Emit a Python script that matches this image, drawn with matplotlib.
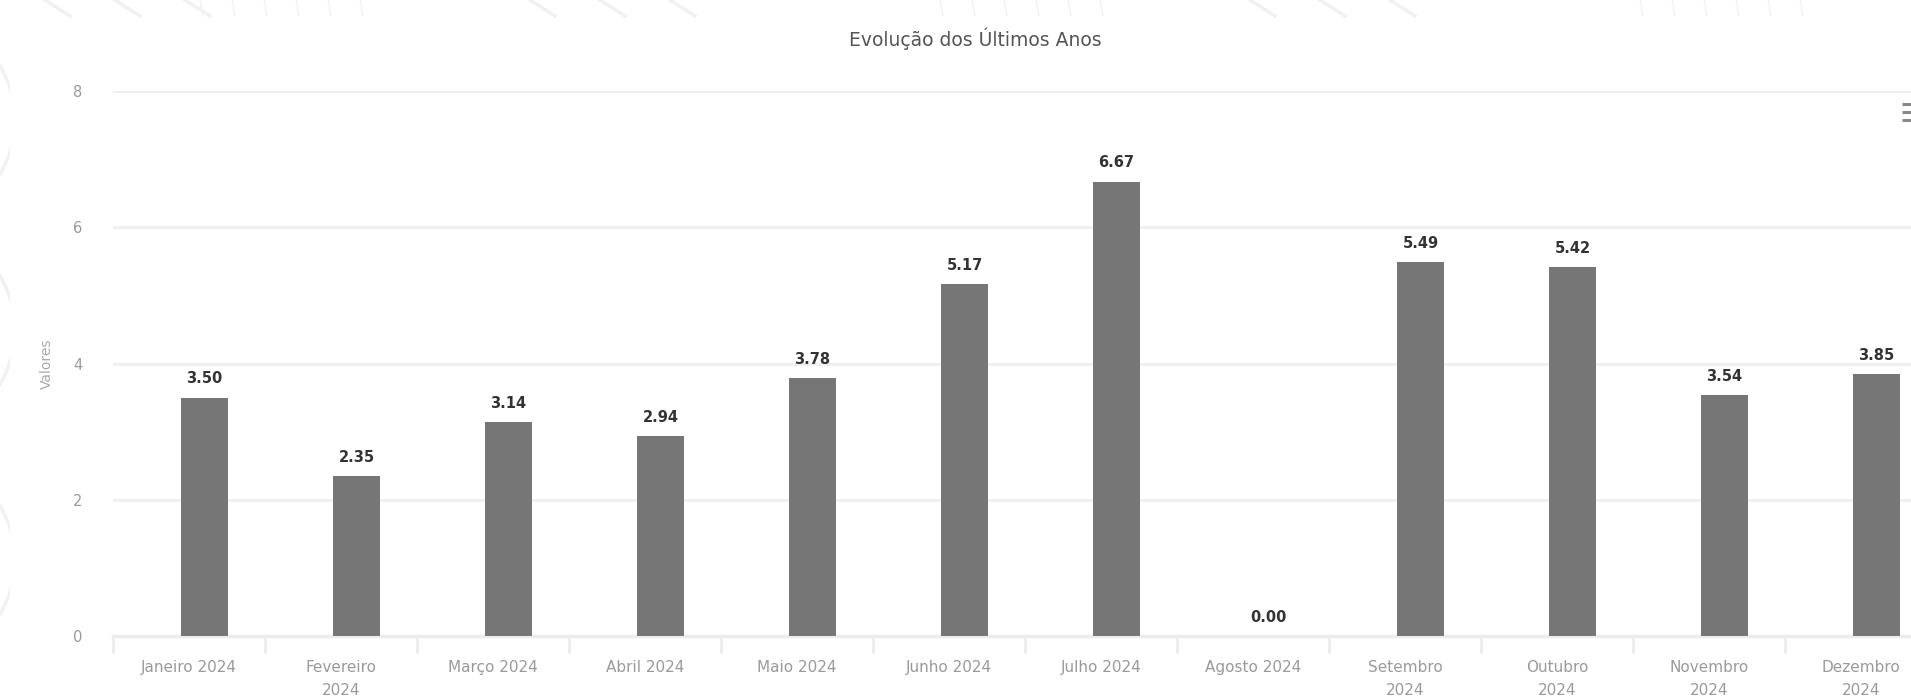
import numpy as np
import matplotlib
matplotlib.use("Agg")
import matplotlib.pyplot as plt
from matplotlib import patches

# data
months = ["Janeiro 2024", "Fevereiro\n2024", "Março 2024", "Abril 2024", "Maio 2024",
          "Junho 2024", "Julho 2024", "Agosto 2024", "Setembro\n2024", "Outubro\n2024",
          "Novembro\n2024", "Dezembro\n2024"]
valores = [3.50, 2.35, 3.14, 2.94, 3.78, 5.17, 6.67, 0.00, 5.49, 5.42, 3.54, 3.85]
yticks = [0, 2, 4, 6, 8]

W, H = 1911, 698
fig = plt.figure(figsize=(W / 100, H / 100), dpi=100)
fig.patch.set_facecolor("white")

# faint decorative background (page pattern behind the white card)
bg = fig.add_axes([0, 0, 1, 1], zorder=-5)
bg.set_xlim(0, W)
bg.set_ylim(H, 0)
bg.axis("off")
deco = "#f1f1f1"
for x0 in [200, 940, 1640]:
    for k in range(6):
        bg.plot([x0 + k * 32, x0 + k * 32 + 3], [0, 16], color=deco, lw=1.0)
for x0 in [45, 530, 1250]:
    for k in range(3):
        bg.plot([x0 + k * 70, x0 + k * 70 + 25], [0, 16], color=deco, lw=2.5)
for cy in [120, 330, 560]:
    bg.add_patch(patches.Arc((-150, cy), 330, 260, theta1=-40, theta2=40, color=deco, lw=2.5))
bg.add_patch(patches.Rectangle((10, 16), W, H, facecolor="white", edgecolor="none"))

# cut-off toolbox icon at the right edge (three short bars)
for yy in [104, 112, 120]:
    bg.plot([1902, 1915], [yy, yy], color="#8a8a8a", lw=2.2, solid_capstyle="butt")

# main chart, the right end runs past the picture edge like the screenshot
left = 113 / W
catw = 152 / W
ax = fig.add_axes([left, (H - 636) / H, catw * 12, (636 - 91) / H])
ax.set_facecolor("none")

x = np.arange(len(months))
off = 0.102
ax.bar(x + off, valores, width=0.31, color="#767676", zorder=3)

for xi, v in zip(x, valores):
    ax.annotate("%.2f" % v, (xi + off, v), xytext=(0, 8), textcoords="offset points",
                ha="center", va="bottom", fontsize=10.5, fontweight="bold", color="#333333")

ax.set_xlim(-0.5, 11.5)
ax.set_ylim(0, 8)
ax.set_yticks(yticks)
ax.set_yticklabels([str(t) for t in yticks])
ax.grid(axis="y", color="#f0f0f0", lw=2.2, zorder=0)

# category ticks on the boundaries, labels at the centres
ax.set_xticks(np.arange(-0.5, 12, 1))
ax.set_xticklabels([""] * 13)
ax.set_xticks(x, minor=True)
ax.set_xticklabels(months, minor=True, fontsize=11, color="#9a9a9a", linespacing=1.65)
ax.tick_params(axis="x", which="major", length=12, width=2, color="#ececec")
ax.tick_params(axis="x", which="minor", length=0, pad=17.5)
ax.tick_params(axis="y", length=0, pad=22, labelsize=10.5, labelcolor="#9a9a9a")

for s in ["top", "right", "left"]:
    ax.spines[s].set_visible(False)
ax.spines["bottom"].set_color("#ececec")
ax.spines["bottom"].set_linewidth(2.5)

ax.set_ylabel("Valores", fontsize=10, color="#aaaaaa", labelpad=14)

fig.text(975 / W, 1 - 39 / H, "Evolução dos Últimos Anos", ha="center", va="center",
         fontsize=13.5, color="#555555")

fig.savefig("out.png", dpi=100)
